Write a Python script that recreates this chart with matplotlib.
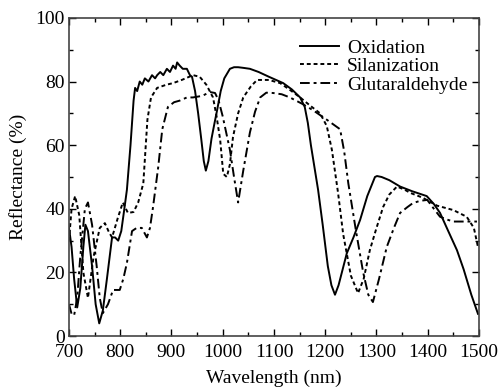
import matplotlib.pyplot as plt
from matplotlib.ticker import MultipleLocator

plt.rcParams['font.family'] = ['Liberation Serif', 'DejaVu Serif']

# Oxidation (solid)
ox_x = [700, 705, 710, 716, 722, 728, 732, 737, 745, 752, 759, 766, 774, 784, 790, 796, 802,
        808, 813, 820, 826, 829, 833, 838, 843, 848, 855, 862, 868, 872, 878, 884, 891, 897,
        903, 908, 911, 916, 922, 930, 936, 940, 946, 952, 958, 963, 967, 972, 978, 984, 989,
        996, 1003, 1014, 1022, 1030, 1040, 1053, 1070, 1090, 1118, 1135, 1151, 1160, 1166,
        1172, 1180, 1186, 1195, 1205, 1212, 1219, 1226, 1234, 1242, 1255, 1268, 1282, 1297,
        1301, 1310, 1325, 1346, 1370, 1398, 1412, 1424, 1440, 1457, 1470, 1485, 1498]
ox_y = [34, 28, 18, 9, 15, 28, 35, 33, 22, 10, 4, 8, 18, 31, 31, 30, 33,
        40, 46, 60, 74, 78, 77, 80, 79, 81, 80, 82, 81, 82, 83, 82, 84, 83,
        85, 84, 86, 85, 84, 84, 82, 81.5, 77, 70, 62, 55, 52, 55, 62, 67, 71,
        77, 81, 84, 84.5, 84.5, 84.3, 84, 83, 81.5, 79.5, 77.5, 75, 72, 67,
        60, 52, 46, 35, 22, 16, 13, 16, 21, 26, 31, 36.5, 44, 50,
        50.3, 50, 49, 47, 45.5, 44, 41.5, 38.7, 33, 27, 21, 13, 7]

# Silanization (dotted)
si_x = [700, 705, 712, 720, 728, 737, 748, 760, 770, 777, 784, 795, 805, 815, 826, 835, 845,
        853, 860, 872, 890, 903, 920, 942, 955, 968, 981, 988, 995, 1001, 1008, 1014, 1020,
        1030, 1040, 1055, 1067, 1090, 1112, 1130, 1151, 1170, 1190, 1203, 1213, 1225, 1235,
        1250, 1264, 1275, 1287, 1300, 1313, 1325, 1340, 1355, 1366, 1390, 1418, 1450, 1476,
        1490, 1498]
si_y = [30, 40, 44, 38, 20, 12, 25, 34, 35.5, 33, 31, 37, 42, 38.7, 39, 42, 48,
        68, 75, 78, 79, 79.5, 80.5, 82, 81.5, 79, 75, 69, 61.6, 51, 50, 54, 62.6,
        70, 75, 78.5, 80.5, 80.5, 79.5, 77.5, 75, 72.5, 70, 66, 58.5, 45, 32,
        19, 13.5, 18, 27, 34, 40.6, 44.5, 47, 46, 45, 43.5, 41, 39.6, 37.5,
        34, 28]

# Glutaraldehyde (dash-dot)
gl_x = [700, 705, 710, 716, 722, 731, 737, 745, 754, 760, 766, 776, 786, 799, 806, 813, 823,
        832, 842, 852, 858, 864, 874, 882, 893, 905, 916, 930, 942, 960, 975, 985, 992, 1000,
        1008, 1014, 1022, 1030, 1040, 1053, 1063, 1073, 1085, 1098, 1115, 1131, 1155, 1176,
        1203, 1229, 1237, 1245, 1260, 1274, 1284, 1293, 1305, 1320, 1334, 1346, 1360, 1371,
        1385, 1399, 1412, 1424, 1440, 1450, 1470, 1496]
gl_y = [10, 7, 6.5, 12, 25, 40, 42, 35, 22, 12, 7.2, 10, 14.5, 14.5, 18, 23, 33,
        34, 34, 31, 34, 40.6, 53, 65, 72, 73.5, 74, 75, 75, 75.5, 76.7, 76.4, 74, 69,
        63, 58.5, 50, 42, 52, 64, 70.5, 75, 76.5, 76.4, 76, 75, 73, 71,
        68, 65, 58, 48, 33, 20, 13, 10.7, 18, 28, 34, 38.7, 40.5, 41.8,
        42.5, 42.8, 40, 37.5, 36.5, 36, 36, 36]

fig = plt.figure(figsize=(5.0, 3.89), dpi=100)
ax = fig.add_axes([0.138, 0.136, 0.820, 0.818])

ax.plot(ox_x, ox_y, color='black', lw=1.4, ls='-', label='Oxidation')
ax.plot(si_x, si_y, color='black', lw=1.4, ls=(0, (2.0, 1.5)), label='Silanization')
ax.plot(gl_x, gl_y, color='black', lw=1.4, ls=(0, (5, 2, 1.5, 2)), label='Glutaraldehyde')

ax.set_xlim(700, 1500)
ax.set_ylim(0, 100)
ax.xaxis.set_major_locator(MultipleLocator(100))
ax.xaxis.set_minor_locator(MultipleLocator(50))
ax.yaxis.set_major_locator(MultipleLocator(20))
ax.yaxis.set_minor_locator(MultipleLocator(10))
ax.tick_params(which='both', direction='in', top=True, right=True, labelsize=14)
ax.tick_params(axis='x', which='both', pad=6)
ax.tick_params(axis='y', which='both', pad=3)
ax.tick_params(which='major', length=5, width=1)
ax.tick_params(which='minor', length=3, width=1)
for s in ax.spines.values():
    s.set_linewidth(1.2)
    s.set_color('#444444')

ax.set_xlabel('Wavelength (nm)', fontsize=14, labelpad=6)
ax.set_ylabel('Reflectance (%)', fontsize=14, labelpad=6)

ax.legend(loc='upper right', bbox_to_anchor=(1.0, 0.97), frameon=False, fontsize=14,
          handlelength=2.0, handletextpad=0.4, labelspacing=0.05, borderaxespad=0.2)

fig.savefig('out.png', dpi=100)
